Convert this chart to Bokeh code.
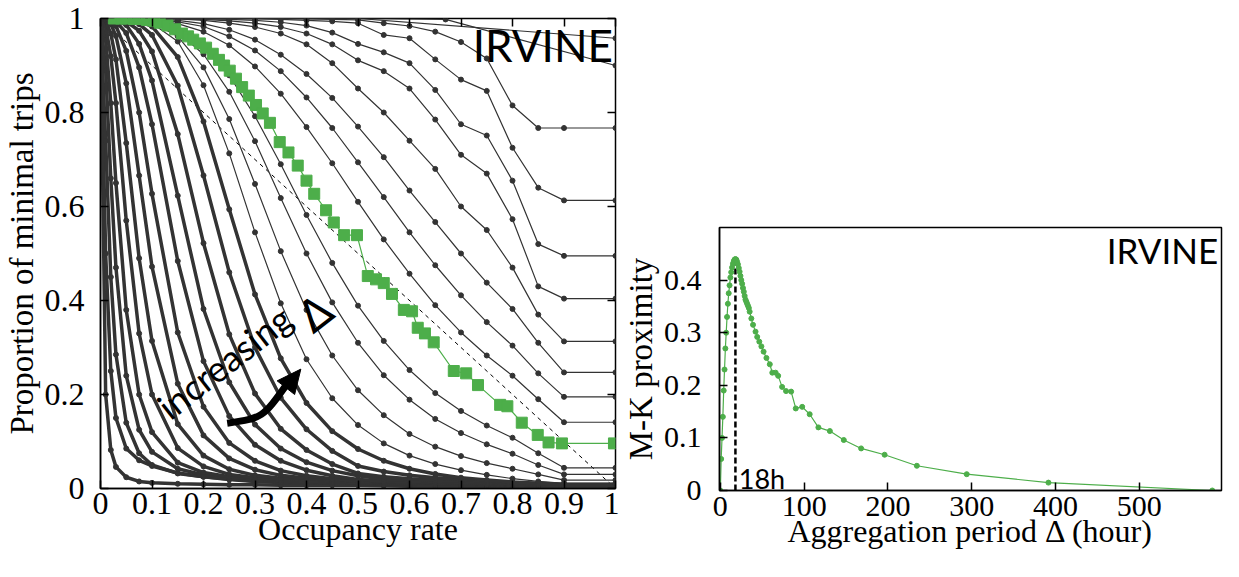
from bokeh.plotting import figure
from bokeh.layouts import row, column
from bokeh.models import FixedTicker, LinearAxis, Spacer
from bokeh.embed import file_html
from bokeh.resources import INLINE
from bokeh.core.properties import value

# ---------------- data: left panel ----------------
occ_grid = [0, 0.01, 0.02, 0.03, 0.05, 0.075, 0.1, 0.15, 0.2, 0.25, 0.3, 0.35,
            0.4, 0.45, 0.5, 0.55, 0.6, 0.65, 0.7, 0.75, 0.8, 0.85, 0.9, 1.0]

# curves of small aggregation period (steep, dense markers)
lower_curves = [
    [1, 0.20, 0.082, 0.046, 0.024, 0.015, 0.012, 0.010, 0.009, 0.008, 0.008, 0.007, 0.007, 0.007, 0.007, 0.006, 0.005, 0.004, 0.004, 0.003, 0.003, 0.002, 0.0015, 0.0015],
    [1, 0.50, 0.25, 0.15, 0.085, 0.06, 0.048, 0.033, 0.025, 0.019, 0.015, 0.013, 0.012, 0.011, 0.010, 0.009, 0.008, 0.007, 0.006, 0.005, 0.004, 0.003, 0.002, 0.002],
    [1, 0.74, 0.45, 0.285, 0.14, 0.075, 0.05, 0.032, 0.025, 0.020, 0.016, 0.014, 0.013, 0.012, 0.011, 0.010, 0.009, 0.008, 0.007, 0.006, 0.005, 0.004, 0.003, 0.003],
    [1, 0.89, 0.66, 0.47, 0.24, 0.125, 0.078, 0.042, 0.029, 0.022, 0.018, 0.016, 0.014, 0.013, 0.012, 0.011, 0.010, 0.009, 0.008, 0.007, 0.006, 0.005, 0.003, 0.003],
    [1, 0.955, 0.82, 0.65, 0.38, 0.20, 0.12, 0.055, 0.034, 0.025, 0.020, 0.017, 0.015, 0.014, 0.013, 0.012, 0.011, 0.010, 0.009, 0.008, 0.007, 0.005, 0.004, 0.004],
    [1, 0.984, 0.92, 0.82, 0.57, 0.33, 0.20, 0.086, 0.047, 0.030, 0.023, 0.019, 0.017, 0.015, 0.014, 0.013, 0.012, 0.011, 0.010, 0.008, 0.007, 0.006, 0.004, 0.004],
    [1, 0.994, 0.968, 0.913, 0.735, 0.49, 0.314, 0.137, 0.07, 0.041, 0.028, 0.022, 0.019, 0.017, 0.015, 0.014, 0.013, 0.011, 0.010, 0.009, 0.008, 0.006, 0.005, 0.005],
    [1, 0.998, 0.988, 0.963, 0.862, 0.666, 0.472, 0.223, 0.113, 0.064, 0.040, 0.028, 0.022, 0.019, 0.016, 0.015, 0.013, 0.012, 0.011, 0.010, 0.008, 0.007, 0.005, 0.005],
    [1, 0.999, 0.995, 0.984, 0.931, 0.80, 0.627, 0.332, 0.174, 0.097, 0.059, 0.038, 0.027, 0.021, 0.017, 0.015, 0.014, 0.013, 0.012, 0.010, 0.009, 0.007, 0.006, 0.006],
    [1, 1.0, 0.998, 0.994, 0.969, 0.896, 0.775, 0.484, 0.271, 0.154, 0.093, 0.059, 0.039, 0.027, 0.019, 0.016, 0.015, 0.014, 0.012, 0.011, 0.010, 0.008, 0.006, 0.006],
    [1, 1.0, 0.999, 0.997, 0.986, 0.946, 0.868, 0.623, 0.382, 0.226, 0.136, 0.085, 0.056, 0.038, 0.027, 0.020, 0.017, 0.015, 0.013, 0.012, 0.010, 0.009, 0.007, 0.007],
    [1, 1.0, 1.0, 0.999, 0.994, 0.974, 0.93, 0.754, 0.522, 0.328, 0.202, 0.127, 0.082, 0.052, 0.032, 0.025, 0.021, 0.018, 0.016, 0.014, 0.011, 0.009, 0.007, 0.007],
    [1, 1.0, 1.0, 1.0, 0.997, 0.988, 0.965, 0.857, 0.666, 0.46, 0.30, 0.193, 0.126, 0.080, 0.048, 0.036, 0.028, 0.023, 0.019, 0.016, 0.013, 0.010, 0.008, 0.008],
    [1, 1.0, 1.0, 1.0, 0.999, 0.994, 0.983, 0.918, 0.781, 0.594, 0.413, 0.277, 0.182, 0.122, 0.084, 0.059, 0.042, 0.031, 0.023, 0.018, 0.014, 0.011, 0.009, 0.009],
    [1, 1.0, 1.0, 1.0, 0.999, 0.997, 0.99, 0.951, 0.858, 0.713, 0.545, 0.394, 0.275, 0.192, 0.135, 0.096, 0.07, 0.052, 0.039, 0.029, 0.021, 0.015, 0.011, 0.011],
    [1, 1.0, 1.0, 1.0, 0.999, 0.997, 0.992, 0.962, 0.896, 0.786, 0.648, 0.505, 0.38, 0.283, 0.209, 0.156, 0.116, 0.089, 0.069, 0.054, 0.042, 0.030, 0.018, 0.018],
    [1, 1.0, 1.0, 1.0, 0.999, 0.998, 0.993, 0.971, 0.924, 0.844, 0.739, 0.618, 0.50, 0.396, 0.31, 0.241, 0.189, 0.148, 0.118, 0.094, 0.074, 0.050, 0.030, 0.030],
    [1, 1.0, 1.0, 1.0, 1.0, 0.998, 0.994, 0.977, 0.94, 0.879, 0.792, 0.69, 0.582, 0.48, 0.389, 0.314, 0.252, 0.203, 0.165, 0.134, 0.108, 0.075, 0.044, 0.044],
]

# curves of large aggregation period (above the optimal one)
upper_curves = [
    [1, 1, 1, 1, 1.0, 0.999, 0.997, 0.989, 0.972, 0.943, 0.898, 0.84, 0.769, 0.692, 0.61, 0.53, 0.457, 0.39, 0.332, 0.283, 0.24, 0.19, 0.141, 0.141],
    [1, 1, 1, 1, 1.0, 0.999, 0.998, 0.993, 0.983, 0.962, 0.932, 0.888, 0.832, 0.767, 0.694, 0.62, 0.545, 0.475, 0.411, 0.354, 0.304, 0.245, 0.195, 0.195],
    [1, 1, 1, 1, 1.0, 1.0, 0.999, 0.996, 0.989, 0.976, 0.955, 0.923, 0.882, 0.831, 0.77, 0.705, 0.634, 0.567, 0.50, 0.438, 0.382, 0.31, 0.247, 0.247],
    [1, 1, 1, 1, 1, 1, 1.0, 0.999, 0.996, 0.99, 0.982, 0.968, 0.945, 0.905, 0.851, 0.80, 0.74, 0.68, 0.60, 0.55, 0.47, 0.37, 0.313, 0.313],
    [1, 1, 1, 1, 1, 1, 1.0, 0.999, 0.998, 0.995, 0.99, 0.982, 0.968, 0.945, 0.911, 0.888, 0.851, 0.785, 0.71, 0.67, 0.573, 0.43, 0.404, 0.404],
    [1, 1, 1, 1, 1, 1, 1.0, 1.0, 0.999, 0.998, 0.996, 0.992, 0.985, 0.97, 0.946, 0.928, 0.905, 0.848, 0.775, 0.751, 0.655, 0.52, 0.495, 0.495],
    [1, 1, 1, 1, 1, 1, 1, 1, 1, 1.0, 0.999, 0.998, 0.996, 0.994, 0.99, 0.965, 0.958, 0.913, 0.87, 0.846, 0.725, 0.64, 0.613, 0.613],
    [1, 1, 1, 1, 1, 1, 1, 1, 1, 1, 1.0, 1.0, 0.999, 0.998, 0.997, 0.99, 0.984, 0.972, 0.95, 0.915, 0.815, 0.767, 0.767, 0.767],
]

# the two largest aggregation periods have only a few points
top_curves_x = [[0, 0.25, 0.5, 1.0], [0, 0.25, 0.5, 0.67, 1.0]]
top_curves_y = [[1, 1, 1, 0.958], [1, 1, 1, 0.998, 0.90]]

# optimal aggregation period (green)
green_occ = [0.026, 0.04, 0.05, 0.065, 0.075, 0.09, 0.104, 0.115, 0.13, 0.145, 0.158, 0.17,
             0.18, 0.193, 0.205, 0.218, 0.23, 0.24, 0.251, 0.263, 0.275, 0.288, 0.302,
             0.315, 0.329, 0.348, 0.365, 0.383, 0.40, 0.415, 0.438, 0.453, 0.473, 0.498,
             0.519, 0.535, 0.55, 0.566, 0.589, 0.605, 0.616, 0.63, 0.647, 0.686, 0.71,
             0.733, 0.776, 0.79, 0.818, 0.849, 0.87, 0.896, 0.997]
green_prop = [1.0, 1.0, 1.0, 0.999, 0.999, 0.997, 0.995, 0.991, 0.985, 0.977, 0.968, 0.962,
              0.955, 0.947, 0.938, 0.925, 0.912, 0.9, 0.889, 0.872, 0.854, 0.836, 0.816,
              0.798, 0.778, 0.737, 0.715, 0.687, 0.655, 0.627, 0.592, 0.566, 0.539, 0.539,
              0.452, 0.445, 0.437, 0.414, 0.38, 0.377, 0.342, 0.33, 0.311, 0.25, 0.245,
              0.22, 0.178, 0.175, 0.14, 0.114, 0.098, 0.096, 0.096]

diag_x = [0, 1]
diag_y = [1, 0]

left_xticks = [0, 0.1, 0.2, 0.3, 0.4, 0.5, 0.6, 0.7, 0.8, 0.9, 1]
left_xlabels = ["0", "0.1", "0.2", "0.3", "0.4", "0.5", "0.6", "0.7", "0.8", "0.9", "1"]
left_yticks = [0, 0.2, 0.4, 0.6, 0.8, 1]
left_ylabels = ["0", "0.2", "0.4", "0.6", "0.8", "1"]

# ---------------- data: right panel ----------------
agg_hours = [0, 1, 2, 3, 4, 5, 6, 7, 8, 9, 10, 11, 12, 13, 14, 15, 16, 17, 18, 19, 20,
             21, 22, 23, 24, 25, 26, 27, 28, 29, 30, 31, 32, 33, 34, 35, 37, 39, 42, 44,
             46.5, 49, 51.6, 55, 59, 62, 66, 69, 73.7, 78.4, 84.5, 90, 97.7, 106.6, 117,
             130.7, 147.3, 168, 196, 234.5, 294, 391.5, 587]
mk_proximity = [0, 0.06, 0.10, 0.14, 0.19, 0.23, 0.27, 0.30, 0.33, 0.355, 0.375, 0.39,
                0.405, 0.415, 0.424, 0.431, 0.436, 0.439, 0.44, 0.439, 0.435, 0.43, 0.423,
                0.416, 0.408, 0.40, 0.393, 0.385, 0.378, 0.37, 0.363, 0.359, 0.355, 0.351,
                0.347, 0.34, 0.327, 0.315, 0.302, 0.292, 0.283, 0.274, 0.264, 0.252, 0.24,
                0.224, 0.224, 0.218, 0.197, 0.189, 0.188, 0.156, 0.159, 0.145, 0.12, 0.113,
                0.096, 0.08, 0.068, 0.047, 0.031, 0.015, 0.0]
peak_hour = [18, 18]
peak_span = [0, 0.44]

right_xticks = [0, 100, 200, 300, 400, 500]
right_xlabels = ["0", "100", "200", "300", "400", "500"]
right_yticks = [0, 0.1, 0.2, 0.3, 0.4]
right_ylabels = ["0", "0.1", "0.2", "0.3", "0.4"]

# annotation anchors (data units)
arrow_start = (0.246, 0.139)
arrow_ctrl = (0.315, 0.15)
arrow_end = (0.362, 0.222)
arrow_head_x = [0.389, 0.343, 0.377]
arrow_head_y = [0.254, 0.229, 0.200]

DARK = "#333333"
GREEN = "#4dae4a"
SERIF = "Liberation Serif"
SANS = "Lato"


def style_axis(ax, ticks, labels, tick_size, label_size):
    ax.ticker = FixedTicker(ticks=ticks)
    ax.major_label_overrides = {t: l for t, l in zip(ticks, labels)}
    ax.major_tick_in = 8
    ax.major_tick_out = 0
    ax.minor_tick_line_color = None
    ax.axis_line_color = "black"
    ax.axis_line_width = 1.5
    ax.major_tick_line_color = "black"
    ax.major_tick_line_width = 1.5
    ax.major_label_text_font = SERIF
    ax.major_label_text_font_size = tick_size
    ax.major_label_text_color = "black"
    ax.axis_label_text_font = SERIF
    ax.axis_label_text_font_style = "normal"
    ax.axis_label_text_font_size = label_size
    ax.axis_label_text_color = "black"


def mirror_axis(ticks):
    return LinearAxis(ticker=FixedTicker(ticks=ticks),
                      major_label_overrides={t: "" for t in ticks},
                      major_label_standoff=0, major_tick_in=8, major_tick_out=0,
                      minor_tick_line_color=None, axis_line_color=None,
                      major_tick_line_color="black", major_tick_line_width=1.5)


# ---------------- left figure ----------------
p1 = figure(width=619, height=560, x_range=(0, 1), y_range=(0, 1),
            output_backend="svg", toolbar_location=None,
            min_border_left=96, min_border_right=4, min_border_top=18, min_border_bottom=72)
p1.grid.visible = False
p1.outline_line_color = "black"
p1.outline_line_width = 1.5

style_axis(p1.below[0], left_xticks, left_xlabels, "32px", "32px")
style_axis(p1.left[0], left_yticks, left_ylabels, "32px", "33px")
p1.below[0].axis_label = "Occupancy rate"
p1.left[0].axis_label = "Proportion of minimal trips"
p1.below[0].major_label_standoff = 4
p1.below[0].axis_label_standoff = -6
p1.left[0].major_label_standoff = 16
p1.left[0].axis_label_standoff = 2
p1.add_layout(mirror_axis(left_xticks), "above")
p1.add_layout(mirror_axis(left_yticks), "right")

p1.line(diag_x, diag_y, line_color="black", line_width=1, line_dash="4 4")

for i, ys in enumerate(lower_curves):
    lw = 3.5 if i < 14 else 1.2
    p1.line(occ_grid, ys, line_color=DARK, line_width=lw)
    p1.scatter(occ_grid, ys, marker="circle", size=5, color=DARK)
for ys in upper_curves:
    p1.line(occ_grid, ys, line_color=DARK, line_width=1.2)
    p1.scatter(occ_grid, ys, marker="circle", size=5, color=DARK)
for xs, ys in zip(top_curves_x, top_curves_y):
    p1.line(xs, ys, line_color=DARK, line_width=1.2)
    p1.scatter(xs, ys, marker="circle", size=5, color=DARK)

p1.line(green_occ, green_prop, line_color=GREEN, line_width=1.2)
p1.scatter(green_occ, green_prop, marker="square", size=11, color=GREEN)

p1.text(x=[0.995], y=[0.944], text=["IRVINE"], text_font=value(SANS),
        text_font_size="44px", text_align="right", text_baseline="middle",
        text_color="black")
p1.text(x=[0.119], y=[0.166], text=["increasing"], angle=0.663, text_font=value(SANS),
        text_font_size="36px", text_align="left", text_baseline="middle",
        text_color="black")
p1.text(x=[0.417], y=[0.373], text=["Δ"], angle=0.663, text_font=value("DejaVu Sans"),
        text_font_size="44px", text_align="center", text_baseline="middle",
        text_color="black")
p1.bezier(x0=[arrow_start[0]], y0=[arrow_start[1]], x1=[arrow_end[0]], y1=[arrow_end[1]],
          cx0=[arrow_ctrl[0]], cy0=[arrow_ctrl[1]], cx1=[arrow_ctrl[0]], cy1=[arrow_ctrl[1]],
          line_color="black", line_width=7)
p1.patch(arrow_head_x, arrow_head_y, color="black")

# ---------------- right figure ----------------
p2 = figure(width=604, height=345, x_range=(-1, 598), y_range=(0, 0.5),
            output_backend="svg", toolbar_location=None,
            min_border_left=95, min_border_right=2, min_border_top=12, min_border_bottom=70)
p2.grid.visible = False
p2.outline_line_color = "black"
p2.outline_line_width = 1.5
style_axis(p2.below[0], right_xticks, right_xlabels, "30px", "32px")
style_axis(p2.left[0], right_yticks, right_ylabels, "30px", "33px")
p2.below[0].axis_label = "Aggregation period Δ (hour)"
p2.left[0].axis_label = "M-K proximity"
p2.below[0].major_label_standoff = 6
p2.below[0].axis_label_standoff = -6
p2.left[0].major_label_standoff = 18
p2.left[0].axis_label_standoff = 2

p2.line(peak_hour, peak_span, line_color="black", line_width=2.5, line_dash="6 3")
p2.line(agg_hours, mk_proximity, line_color=GREEN, line_width=1.2)
p2.scatter(agg_hours, mk_proximity, marker="circle", size=5, color=GREEN)
p2.text(x=[594], y=[0.457], text=["IRVINE"], text_font=value(SANS), text_font_size="35px",
        text_align="right", text_baseline="middle", text_color="black")
p2.text(x=[22], y=[0.023], text=["18h"], text_font=value(SANS), text_font_size="27px",
        text_align="left", text_baseline="middle", text_color="black")

layout = row(p1, column(Spacer(width=604, height=215), p2))
open("out.html", "w").write(file_html(layout, INLINE))
